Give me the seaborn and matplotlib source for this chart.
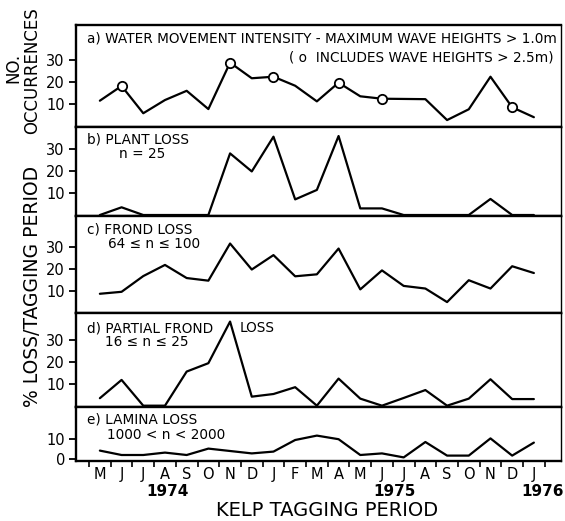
import numpy as np
import pandas as pd
import matplotlib
matplotlib.use("Agg")
import matplotlib.pyplot as plt
import seaborn as sns

sns.set_style("ticks")
plt.rcParams['font.family'] = ['DejaVu Sans']
plt.rcParams.update({"text.color": "black", "axes.edgecolor": "black",
                     "xtick.color": "black", "ytick.color": "black",
                     "axes.labelcolor": "black"})

# ---------------- data ----------------
months = ["M", "J", "J", "A", "S", "O", "N", "D", "J", "F", "M",
          "A", "M", "J", "J", "A", "S", "O", "N", "D", "J"]
years = ["1974", "1975", "1976"]
year_pos = [3.1, 13.6, 20.4]

water = [11.5, 18.2, 5.8, 11.8, 16.0, 7.7, 28.8, 21.7, 22.4, 18.3, 11.2,
         19.7, 13.5, 12.4, 12.3, 12.2, 2.7, 7.6, 22.4, 8.5, 4.0]
big_wave = [False, True, False, False, False, False, True, False, True, False, False,
            True, False, True, False, False, False, False, False, True, False]
plant = [0, 3.5, 0, 0, 0, 0, 28.0, 19.8, 35.6, 7.1, 11.4,
         35.9, 3.0, 3.0, 0, 0, 0, 0, 7.3, 0, 0]
frond = [8.8, 9.7, 16.9, 22.0, 16.0, 14.8, 31.8, 19.9, 26.5, 16.8, 17.7,
         29.5, 10.8, 19.5, 12.4, 11.2, 5.0, 15.0, 11.2, 21.4, 18.3]
partial = [3.4, 11.7, 0, 0, 15.5, 19.3, 38.2, 4.1, 5.3, 8.4, 0,
           12.3, 3.2, 0, 3.5, 7.1, 0, 3.2, 12.0, 3.0, 3.0]
lamina = [4.2, 2.0, 2.0, 3.2, 2.0, 5.2, 4.0, 2.8, 3.7, 9.5, 11.7,
          9.9, 2.0, 2.8, 0.8, 8.5, 1.7, 1.7, 10.3, 1.7, 8.2]

df = pd.DataFrame({"idx": np.arange(len(months)), "water": water, "big": big_wave,
                   "plant": plant, "frond": frond, "partial": partial, "lamina": lamina})

# ---------------- layout ----------------
W, H = 565, 521
fig = plt.figure(figsize=(W / 100, H / 100), dpi=100)

def rect(x0, y0, x1, y1):
    return [x0 / W, 1 - y1 / H, (x1 - x0) / W, (y1 - y0) / H]

left, right = 76, 561
bounds = [25, 127, 216, 313, 407, 461]
ylims = [(-0.45, 45.9), (-0.45, 40.0), (0.0, 44.4), (-0.6, 42.1), (-1.0, 26.0)]
yticks = [[10, 20, 30], [10, 20, 30], [10, 20, 30], [10, 20, 30], [0, 10]]
cols = ["water", "plant", "frond", "partial", "lamina"]

axes = []
for k in range(5):
    ax = fig.add_axes(rect(left, bounds[k], right, bounds[k + 1]))
    sns.lineplot(data=df, x="idx", y=cols[k], ax=ax, color="black", lw=1.6)
    ax.set_xlim(-1.1, 21.25)
    ax.set_ylim(*ylims[k])
    ax.set_yticks(yticks[k])
    ax.set_yticklabels([str(t) for t in yticks[k]], fontsize=10.5)
    ax.tick_params(axis="y", direction="out", length=5, width=1.3, pad=3)
    ax.set_xlabel("")
    ax.set_ylabel("")
    for s in ["left", "top", "bottom"]:
        ax.spines[s].set_linewidth(1.7)
    ax.spines["right"].set_linewidth(1.0)
    if k < 4:
        ax.set_xticks([])
    axes.append(ax)

# open circles: wave heights > 2.5 m
sns.scatterplot(data=df[df["big"]], x="idx", y="water", ax=axes[0], s=45,
                facecolor="white", edgecolor="black", linewidth=1.3, zorder=5)
axes[0].set_xlabel(""); axes[0].set_ylabel("")

# bottom axis ticks
axb = axes[4]
axb.set_xticks(np.arange(-0.5, 21.5, 1.0))
axb.set_xticklabels([])
axb.set_xticks(np.arange(len(months)), minor=True)
axb.set_xticklabels(months, minor=True, fontsize=10.5)
axb.tick_params(axis="x", which="major", direction="out", length=4, width=1.2)
axb.tick_params(axis="x", which="minor", length=0, pad=4)
axb.set_xlabel("")
for yr, p in zip(years, year_pos):
    axb.text(p, -0.56, yr, transform=axb.get_xaxis_transform(), ha="center",
             va="center", fontsize=11, fontweight="bold")

# panel annotations
fs = 9.8
axes[0].text(0.022, 0.87, "a) WATER MOVEMENT INTENSITY - MAXIMUM WAVE HEIGHTS > 1.0m",
             transform=axes[0].transAxes, fontsize=fs, va="center", ha="left")
axes[0].text(0.985, 0.68, "( o  INCLUDES WAVE HEIGHTS > 2.5m)",
             transform=axes[0].transAxes, fontsize=fs, va="center", ha="right")
axes[1].text(0.022, 0.86, "b) PLANT LOSS", transform=axes[1].transAxes, fontsize=fs, va="center")
axes[1].text(0.088, 0.70, "n = 25", transform=axes[1].transAxes, fontsize=fs, va="center")
axes[2].text(0.022, 0.86, "c) FROND LOSS", transform=axes[2].transAxes, fontsize=fs, va="center")
axes[2].text(0.066, 0.71, "64 ≤ n ≤ 100", transform=axes[2].transAxes, fontsize=fs, va="center")
axes[3].text(0.022, 0.84, "d) PARTIAL FROND", transform=axes[3].transAxes, fontsize=fs, va="center")
axes[3].text(0.338, 0.84, "LOSS", transform=axes[3].transAxes, fontsize=fs, va="center")
axes[3].text(0.060, 0.69, "16 ≤ n ≤ 25", transform=axes[3].transAxes, fontsize=fs, va="center")
axes[4].text(0.022, 0.76, "e) LAMINA LOSS", transform=axes[4].transAxes, fontsize=fs, va="center")
axes[4].text(0.064, 0.48, "1000 < n < 2000", transform=axes[4].transAxes, fontsize=fs, va="center")

# axis titles
fig.text(13 / W, 1 - 68 / H, "NO.", rotation=90, ha="center", va="center", fontsize=12)
fig.text(32 / W, 1 - 71 / H, "OCCURRENCES", rotation=90, ha="center", va="center", fontsize=12)
fig.text(33 / W, 1 - 286 / H, "% LOSS/TAGGING PERIOD", rotation=90, ha="center",
         va="center", fontsize=13.5)
fig.text(327 / W, 1 - 511 / H, "KELP TAGGING PERIOD", ha="center", va="center", fontsize=14)

fig.savefig("out.png", dpi=100)
